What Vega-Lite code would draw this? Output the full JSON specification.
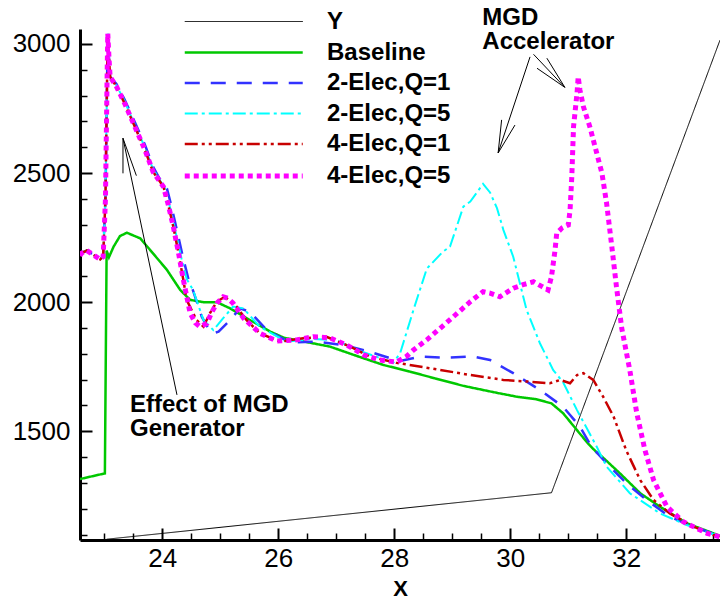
{
  "$schema": "https://vega.github.io/schema/vega-lite/v6.json",
  "width": 640,
  "height": 511,
  "autosize": {"type": "none"},
  "padding": {"left": 80, "top": 29, "right": 0, "bottom": 62},
  "config": {"view": {"stroke": null}, "font": "Liberation Sans", "axis": {"grid": false, "labelColor": "black", "titleColor": "black", "domainColor": "black", "tickColor": "black"}},
  "datasets": {
    "curves": [
      {"series": "Y", "x": 23.04, "y": 1082}, {"series": "Y", "x": 30.71, "y": 1262}, {"series": "Y", "x": 33.615, "y": 3015},

      {"series": "Baseline", "x": 22.58, "y": 1315}, {"series": "Baseline", "x": 23.01, "y": 1337}, {"series": "Baseline", "x": 23.04, "y": 2200}, {"series": "Baseline", "x": 23.08, "y": 2174}, {"series": "Baseline", "x": 23.16, "y": 2215}, {"series": "Baseline", "x": 23.27, "y": 2256}, {"series": "Baseline", "x": 23.39, "y": 2269}, {"series": "Baseline", "x": 23.62, "y": 2247}, {"series": "Baseline", "x": 23.84, "y": 2189}, {"series": "Baseline", "x": 24.08, "y": 2125}, {"series": "Baseline", "x": 24.31, "y": 2047}, {"series": "Baseline", "x": 24.48, "y": 2009}, {"series": "Baseline", "x": 24.71, "y": 2000}, {"series": "Baseline", "x": 24.94, "y": 2000}, {"series": "Baseline", "x": 25.17, "y": 1976}, {"series": "Baseline", "x": 25.51, "y": 1931}, {"series": "Baseline", "x": 25.86, "y": 1886}, {"series": "Baseline", "x": 26.1, "y": 1862}, {"series": "Baseline", "x": 26.5, "y": 1845}, {"series": "Baseline", "x": 26.89, "y": 1828}, {"series": "Baseline", "x": 27.35, "y": 1792}, {"series": "Baseline", "x": 27.81, "y": 1757}, {"series": "Baseline", "x": 28.27, "y": 1731}, {"series": "Baseline", "x": 28.7, "y": 1705}, {"series": "Baseline", "x": 29.19, "y": 1676}, {"series": "Baseline", "x": 29.7, "y": 1652}, {"series": "Baseline", "x": 30.11, "y": 1634}, {"series": "Baseline", "x": 30.45, "y": 1624}, {"series": "Baseline", "x": 30.71, "y": 1608}, {"series": "Baseline", "x": 30.91, "y": 1570}, {"series": "Baseline", "x": 31.14, "y": 1507}, {"series": "Baseline", "x": 31.35, "y": 1450}, {"series": "Baseline", "x": 31.49, "y": 1418}, {"series": "Baseline", "x": 31.58, "y": 1402}, {"series": "Baseline", "x": 31.89, "y": 1337}, {"series": "Baseline", "x": 32.24, "y": 1260}, {"series": "Baseline", "x": 32.58, "y": 1208}, {"series": "Baseline", "x": 33.04, "y": 1144}, {"series": "Baseline", "x": 33.5, "y": 1105}, {"series": "Baseline", "x": 33.615, "y": 1095},

      {"series": "2-Elec,Q=1", "x": 22.58, "y": 2180}, {"series": "2-Elec,Q=1", "x": 22.61, "y": 2190}, {"series": "2-Elec,Q=1", "x": 22.7, "y": 2200}, {"series": "2-Elec,Q=1", "x": 22.8, "y": 2185}, {"series": "2-Elec,Q=1", "x": 22.93, "y": 2166}, {"series": "2-Elec,Q=1", "x": 22.98, "y": 2176}, {"series": "2-Elec,Q=1", "x": 23.02, "y": 2400}, {"series": "2-Elec,Q=1", "x": 23.05, "y": 2900}, {"series": "2-Elec,Q=1", "x": 23.06, "y": 3030}, {"series": "2-Elec,Q=1", "x": 23.08, "y": 2950}, {"series": "2-Elec,Q=1", "x": 23.1, "y": 2873}, {"series": "2-Elec,Q=1", "x": 23.21, "y": 2845}, {"series": "2-Elec,Q=1", "x": 23.35, "y": 2785}, {"series": "2-Elec,Q=1", "x": 23.5, "y": 2710}, {"series": "2-Elec,Q=1", "x": 23.7, "y": 2610}, {"series": "2-Elec,Q=1", "x": 23.84, "y": 2525}, {"series": "2-Elec,Q=1", "x": 23.95, "y": 2480}, {"series": "2-Elec,Q=1", "x": 24.08, "y": 2440}, {"series": "2-Elec,Q=1", "x": 24.16, "y": 2370}, {"series": "2-Elec,Q=1", "x": 24.26, "y": 2270}, {"series": "2-Elec,Q=1", "x": 24.36, "y": 2170}, {"series": "2-Elec,Q=1", "x": 24.45, "y": 2090}, {"series": "2-Elec,Q=1", "x": 24.53, "y": 2045}, {"series": "2-Elec,Q=1", "x": 24.68, "y": 1944}, {"series": "2-Elec,Q=1", "x": 24.8, "y": 1895}, {"series": "2-Elec,Q=1", "x": 24.88, "y": 1880}, {"series": "2-Elec,Q=1", "x": 24.97, "y": 1886}, {"series": "2-Elec,Q=1", "x": 25.17, "y": 1931}, {"series": "2-Elec,Q=1", "x": 25.34, "y": 1976}, {"series": "2-Elec,Q=1", "x": 25.51, "y": 1963}, {"series": "2-Elec,Q=1", "x": 25.8, "y": 1892}, {"series": "2-Elec,Q=1", "x": 26.2, "y": 1844}, {"series": "2-Elec,Q=1", "x": 26.66, "y": 1847}, {"series": "2-Elec,Q=1", "x": 27.12, "y": 1834}, {"series": "2-Elec,Q=1", "x": 27.58, "y": 1808}, {"series": "2-Elec,Q=1", "x": 27.93, "y": 1783}, {"series": "2-Elec,Q=1", "x": 28.1, "y": 1772}, {"series": "2-Elec,Q=1", "x": 28.44, "y": 1789}, {"series": "2-Elec,Q=1", "x": 28.9, "y": 1785}, {"series": "2-Elec,Q=1", "x": 29.36, "y": 1790}, {"series": "2-Elec,Q=1", "x": 29.65, "y": 1776}, {"series": "2-Elec,Q=1", "x": 30.05, "y": 1725}, {"series": "2-Elec,Q=1", "x": 30.51, "y": 1660}, {"series": "2-Elec,Q=1", "x": 30.91, "y": 1595}, {"series": "2-Elec,Q=1", "x": 31.2, "y": 1518}, {"series": "2-Elec,Q=1", "x": 31.4, "y": 1440}, {"series": "2-Elec,Q=1", "x": 31.66, "y": 1376}, {"series": "2-Elec,Q=1", "x": 32.0, "y": 1299}, {"series": "2-Elec,Q=1", "x": 32.35, "y": 1234}, {"series": "2-Elec,Q=1", "x": 32.75, "y": 1169}, {"series": "2-Elec,Q=1", "x": 33.1, "y": 1135}, {"series": "2-Elec,Q=1", "x": 33.5, "y": 1103}, {"series": "2-Elec,Q=1", "x": 33.615, "y": 1095},

      {"series": "2-Elec,Q=5", "x": 22.58, "y": 2180}, {"series": "2-Elec,Q=5", "x": 22.61, "y": 2190}, {"series": "2-Elec,Q=5", "x": 22.7, "y": 2200}, {"series": "2-Elec,Q=5", "x": 22.8, "y": 2185}, {"series": "2-Elec,Q=5", "x": 22.93, "y": 2166}, {"series": "2-Elec,Q=5", "x": 22.98, "y": 2176}, {"series": "2-Elec,Q=5", "x": 23.02, "y": 2400}, {"series": "2-Elec,Q=5", "x": 23.05, "y": 2900}, {"series": "2-Elec,Q=5", "x": 23.06, "y": 3040}, {"series": "2-Elec,Q=5", "x": 23.08, "y": 2950}, {"series": "2-Elec,Q=5", "x": 23.1, "y": 2873}, {"series": "2-Elec,Q=5", "x": 23.21, "y": 2840}, {"series": "2-Elec,Q=5", "x": 23.35, "y": 2778}, {"series": "2-Elec,Q=5", "x": 23.5, "y": 2700}, {"series": "2-Elec,Q=5", "x": 23.7, "y": 2600}, {"series": "2-Elec,Q=5", "x": 23.84, "y": 2515}, {"series": "2-Elec,Q=5", "x": 23.95, "y": 2475}, {"series": "2-Elec,Q=5", "x": 24.05, "y": 2440}, {"series": "2-Elec,Q=5", "x": 24.13, "y": 2370}, {"series": "2-Elec,Q=5", "x": 24.23, "y": 2270}, {"series": "2-Elec,Q=5", "x": 24.33, "y": 2170}, {"series": "2-Elec,Q=5", "x": 24.42, "y": 2090}, {"series": "2-Elec,Q=5", "x": 24.53, "y": 2047}, {"series": "2-Elec,Q=5", "x": 24.71, "y": 1931}, {"series": "2-Elec,Q=5", "x": 24.88, "y": 1892}, {"series": "2-Elec,Q=5", "x": 25.05, "y": 1938}, {"series": "2-Elec,Q=5", "x": 25.22, "y": 1983}, {"series": "2-Elec,Q=5", "x": 25.4, "y": 1976}, {"series": "2-Elec,Q=5", "x": 25.68, "y": 1905}, {"series": "2-Elec,Q=5", "x": 26.14, "y": 1847}, {"series": "2-Elec,Q=5", "x": 26.6, "y": 1858}, {"series": "2-Elec,Q=5", "x": 27.0, "y": 1852}, {"series": "2-Elec,Q=5", "x": 27.4, "y": 1812}, {"series": "2-Elec,Q=5", "x": 27.8, "y": 1780}, {"series": "2-Elec,Q=5", "x": 27.98, "y": 1765}, {"series": "2-Elec,Q=5", "x": 28.1, "y": 1802}, {"series": "2-Elec,Q=5", "x": 28.33, "y": 1970}, {"series": "2-Elec,Q=5", "x": 28.56, "y": 2130}, {"series": "2-Elec,Q=5", "x": 28.84, "y": 2196}, {"series": "2-Elec,Q=5", "x": 28.96, "y": 2215}, {"series": "2-Elec,Q=5", "x": 29.19, "y": 2370}, {"series": "2-Elec,Q=5", "x": 29.31, "y": 2390}, {"series": "2-Elec,Q=5", "x": 29.53, "y": 2458}, {"series": "2-Elec,Q=5", "x": 29.65, "y": 2425}, {"series": "2-Elec,Q=5", "x": 29.77, "y": 2364}, {"series": "2-Elec,Q=5", "x": 29.88, "y": 2280}, {"series": "2-Elec,Q=5", "x": 30.05, "y": 2176}, {"series": "2-Elec,Q=5", "x": 30.28, "y": 1970}, {"series": "2-Elec,Q=5", "x": 30.51, "y": 1841}, {"series": "2-Elec,Q=5", "x": 30.74, "y": 1737}, {"series": "2-Elec,Q=5", "x": 30.91, "y": 1690}, {"series": "2-Elec,Q=5", "x": 31.15, "y": 1582}, {"series": "2-Elec,Q=5", "x": 31.49, "y": 1440}, {"series": "2-Elec,Q=5", "x": 31.66, "y": 1363}, {"series": "2-Elec,Q=5", "x": 32.06, "y": 1260}, {"series": "2-Elec,Q=5", "x": 32.58, "y": 1182}, {"series": "2-Elec,Q=5", "x": 33.04, "y": 1137}, {"series": "2-Elec,Q=5", "x": 33.5, "y": 1102}, {"series": "2-Elec,Q=5", "x": 33.615, "y": 1094},

      {"series": "4-Elec,Q=1", "x": 22.58, "y": 2180}, {"series": "4-Elec,Q=1", "x": 22.61, "y": 2190}, {"series": "4-Elec,Q=1", "x": 22.7, "y": 2200}, {"series": "4-Elec,Q=1", "x": 22.8, "y": 2185}, {"series": "4-Elec,Q=1", "x": 22.93, "y": 2166}, {"series": "4-Elec,Q=1", "x": 22.98, "y": 2176}, {"series": "4-Elec,Q=1", "x": 23.02, "y": 2400}, {"series": "4-Elec,Q=1", "x": 23.05, "y": 2900}, {"series": "4-Elec,Q=1", "x": 23.06, "y": 3030}, {"series": "4-Elec,Q=1", "x": 23.08, "y": 2950}, {"series": "4-Elec,Q=1", "x": 23.1, "y": 2873}, {"series": "4-Elec,Q=1", "x": 23.21, "y": 2835}, {"series": "4-Elec,Q=1", "x": 23.35, "y": 2770}, {"series": "4-Elec,Q=1", "x": 23.5, "y": 2693}, {"series": "4-Elec,Q=1", "x": 23.7, "y": 2590}, {"series": "4-Elec,Q=1", "x": 23.84, "y": 2505}, {"series": "4-Elec,Q=1", "x": 23.95, "y": 2470}, {"series": "4-Elec,Q=1", "x": 24.02, "y": 2447}, {"series": "4-Elec,Q=1", "x": 24.1, "y": 2380}, {"series": "4-Elec,Q=1", "x": 24.19, "y": 2292}, {"series": "4-Elec,Q=1", "x": 24.28, "y": 2190}, {"series": "4-Elec,Q=1", "x": 24.36, "y": 2090}, {"series": "4-Elec,Q=1", "x": 24.42, "y": 2009}, {"series": "4-Elec,Q=1", "x": 24.59, "y": 1931}, {"series": "4-Elec,Q=1", "x": 24.71, "y": 1905}, {"series": "4-Elec,Q=1", "x": 24.82, "y": 1957}, {"series": "4-Elec,Q=1", "x": 24.94, "y": 2002}, {"series": "4-Elec,Q=1", "x": 25.08, "y": 2021}, {"series": "4-Elec,Q=1", "x": 25.28, "y": 1983}, {"series": "4-Elec,Q=1", "x": 25.45, "y": 1931}, {"series": "4-Elec,Q=1", "x": 25.68, "y": 1880}, {"series": "4-Elec,Q=1", "x": 26.03, "y": 1847}, {"series": "4-Elec,Q=1", "x": 26.43, "y": 1860}, {"series": "4-Elec,Q=1", "x": 26.83, "y": 1866}, {"series": "4-Elec,Q=1", "x": 27.24, "y": 1828}, {"series": "4-Elec,Q=1", "x": 27.58, "y": 1789}, {"series": "4-Elec,Q=1", "x": 28.04, "y": 1765}, {"series": "4-Elec,Q=1", "x": 28.62, "y": 1744}, {"series": "4-Elec,Q=1", "x": 29.31, "y": 1718}, {"series": "4-Elec,Q=1", "x": 29.88, "y": 1699}, {"series": "4-Elec,Q=1", "x": 30.34, "y": 1692}, {"series": "4-Elec,Q=1", "x": 30.68, "y": 1686}, {"series": "4-Elec,Q=1", "x": 30.86, "y": 1699}, {"series": "4-Elec,Q=1", "x": 31.03, "y": 1686}, {"series": "4-Elec,Q=1", "x": 31.15, "y": 1718}, {"series": "4-Elec,Q=1", "x": 31.26, "y": 1725}, {"series": "4-Elec,Q=1", "x": 31.43, "y": 1699}, {"series": "4-Elec,Q=1", "x": 31.6, "y": 1634}, {"series": "4-Elec,Q=1", "x": 31.78, "y": 1557}, {"series": "4-Elec,Q=1", "x": 32.0, "y": 1425}, {"series": "4-Elec,Q=1", "x": 32.24, "y": 1311}, {"series": "4-Elec,Q=1", "x": 32.47, "y": 1234}, {"series": "4-Elec,Q=1", "x": 32.75, "y": 1182}, {"series": "4-Elec,Q=1", "x": 33.16, "y": 1131}, {"series": "4-Elec,Q=1", "x": 33.5, "y": 1098}, {"series": "4-Elec,Q=1", "x": 33.615, "y": 1093},

      {"series": "4-Elec,Q=5", "x": 22.58, "y": 2180}, {"series": "4-Elec,Q=5", "x": 22.61, "y": 2190}, {"series": "4-Elec,Q=5", "x": 22.7, "y": 2200}, {"series": "4-Elec,Q=5", "x": 22.8, "y": 2185}, {"series": "4-Elec,Q=5", "x": 22.93, "y": 2166}, {"series": "4-Elec,Q=5", "x": 22.98, "y": 2176}, {"series": "4-Elec,Q=5", "x": 23.02, "y": 2400}, {"series": "4-Elec,Q=5", "x": 23.05, "y": 2900}, {"series": "4-Elec,Q=5", "x": 23.06, "y": 3040}, {"series": "4-Elec,Q=5", "x": 23.08, "y": 2950}, {"series": "4-Elec,Q=5", "x": 23.1, "y": 2873}, {"series": "4-Elec,Q=5", "x": 23.21, "y": 2835}, {"series": "4-Elec,Q=5", "x": 23.35, "y": 2770}, {"series": "4-Elec,Q=5", "x": 23.5, "y": 2693}, {"series": "4-Elec,Q=5", "x": 23.7, "y": 2590}, {"series": "4-Elec,Q=5", "x": 23.84, "y": 2505}, {"series": "4-Elec,Q=5", "x": 23.95, "y": 2470}, {"series": "4-Elec,Q=5", "x": 24.02, "y": 2447}, {"series": "4-Elec,Q=5", "x": 24.1, "y": 2380}, {"series": "4-Elec,Q=5", "x": 24.19, "y": 2292}, {"series": "4-Elec,Q=5", "x": 24.28, "y": 2190}, {"series": "4-Elec,Q=5", "x": 24.36, "y": 2090}, {"series": "4-Elec,Q=5", "x": 24.48, "y": 1957}, {"series": "4-Elec,Q=5", "x": 24.57, "y": 1920}, {"series": "4-Elec,Q=5", "x": 24.65, "y": 1905}, {"series": "4-Elec,Q=5", "x": 24.77, "y": 1918}, {"series": "4-Elec,Q=5", "x": 24.85, "y": 1960}, {"series": "4-Elec,Q=5", "x": 24.94, "y": 1996}, {"series": "4-Elec,Q=5", "x": 25.05, "y": 2021}, {"series": "4-Elec,Q=5", "x": 25.13, "y": 2015}, {"series": "4-Elec,Q=5", "x": 25.22, "y": 1996}, {"series": "4-Elec,Q=5", "x": 25.4, "y": 1938}, {"series": "4-Elec,Q=5", "x": 25.68, "y": 1880}, {"series": "4-Elec,Q=5", "x": 25.97, "y": 1850}, {"series": "4-Elec,Q=5", "x": 26.32, "y": 1854}, {"series": "4-Elec,Q=5", "x": 26.6, "y": 1866}, {"series": "4-Elec,Q=5", "x": 26.89, "y": 1862}, {"series": "4-Elec,Q=5", "x": 27.18, "y": 1834}, {"series": "4-Elec,Q=5", "x": 27.47, "y": 1796}, {"series": "4-Elec,Q=5", "x": 27.75, "y": 1776}, {"series": "4-Elec,Q=5", "x": 28.04, "y": 1768}, {"series": "4-Elec,Q=5", "x": 28.21, "y": 1790}, {"series": "4-Elec,Q=5", "x": 28.33, "y": 1815}, {"series": "4-Elec,Q=5", "x": 28.56, "y": 1854}, {"series": "4-Elec,Q=5", "x": 28.79, "y": 1899}, {"series": "4-Elec,Q=5", "x": 29.02, "y": 1944}, {"series": "4-Elec,Q=5", "x": 29.31, "y": 2002}, {"series": "4-Elec,Q=5", "x": 29.53, "y": 2041}, {"series": "4-Elec,Q=5", "x": 29.65, "y": 2035}, {"series": "4-Elec,Q=5", "x": 29.82, "y": 2021}, {"series": "4-Elec,Q=5", "x": 30.05, "y": 2054}, {"series": "4-Elec,Q=5", "x": 30.22, "y": 2068}, {"series": "4-Elec,Q=5", "x": 30.4, "y": 2079}, {"series": "4-Elec,Q=5", "x": 30.55, "y": 2060}, {"series": "4-Elec,Q=5", "x": 30.65, "y": 2047}, {"series": "4-Elec,Q=5", "x": 30.71, "y": 2099}, {"series": "4-Elec,Q=5", "x": 30.77, "y": 2200}, {"series": "4-Elec,Q=5", "x": 30.8, "y": 2267}, {"series": "4-Elec,Q=5", "x": 30.89, "y": 2287}, {"series": "4-Elec,Q=5", "x": 31.0, "y": 2299}, {"series": "4-Elec,Q=5", "x": 31.03, "y": 2357}, {"series": "4-Elec,Q=5", "x": 31.06, "y": 2486}, {"series": "4-Elec,Q=5", "x": 31.09, "y": 2680}, {"series": "4-Elec,Q=5", "x": 31.15, "y": 2809}, {"series": "4-Elec,Q=5", "x": 31.17, "y": 2873}, {"series": "4-Elec,Q=5", "x": 31.2, "y": 2822}, {"series": "4-Elec,Q=5", "x": 31.26, "y": 2757}, {"series": "4-Elec,Q=5", "x": 31.37, "y": 2680}, {"series": "4-Elec,Q=5", "x": 31.49, "y": 2577}, {"series": "4-Elec,Q=5", "x": 31.58, "y": 2499}, {"series": "4-Elec,Q=5", "x": 31.66, "y": 2383}, {"series": "4-Elec,Q=5", "x": 31.75, "y": 2215}, {"series": "4-Elec,Q=5", "x": 31.83, "y": 2060}, {"series": "4-Elec,Q=5", "x": 31.92, "y": 1900}, {"series": "4-Elec,Q=5", "x": 32.06, "y": 1737}, {"series": "4-Elec,Q=5", "x": 32.18, "y": 1570}, {"series": "4-Elec,Q=5", "x": 32.32, "y": 1428}, {"series": "4-Elec,Q=5", "x": 32.47, "y": 1311}, {"series": "4-Elec,Q=5", "x": 32.7, "y": 1208}, {"series": "4-Elec,Q=5", "x": 32.98, "y": 1150}, {"series": "4-Elec,Q=5", "x": 33.39, "y": 1105}, {"series": "4-Elec,Q=5", "x": 33.615, "y": 1091}
    ],
    "arrows": [
      {"x": 24.253, "y": 1641, "x2": 23.322, "y2": 2635},
      {"x": 23.322, "y": 2635, "x2": 23.322, "y2": 2499},
      {"x": 23.322, "y": 2635, "x2": 23.553, "y2": 2490},
      {"x": 30.34, "y": 2950, "x2": 29.79, "y2": 2578},
      {"x": 29.79, "y": 2578, "x2": 29.85, "y2": 2706},
      {"x": 29.79, "y": 2578, "x2": 30.08, "y2": 2686},
      {"x": 30.4, "y": 2960, "x2": 30.94, "y2": 2832},
      {"x": 30.94, "y": 2832, "x2": 30.63, "y2": 2945},
      {"x": 30.94, "y": 2832, "x2": 30.46, "y2": 2906}
    ],
    "notes": [
      {"x": 23.443, "y": 1576, "label": "Effect of MGD\nGenerator"},
      {"x": 29.517, "y": 3073, "label": "MGD\nAccelerator"}
    ]
  },
  "resolve": {"axis": {"x": "independent", "y": "independent"}},
  "layer": [
    {
      "data": {"name": "curves"},
      "mark": {"type": "line", "clip": true, "strokeCap": "butt"},
      "encoding": {
        "x": {"field": "x", "type": "quantitative", "scale": {"domain": [22.581, 33.615], "nice": false, "zero": false},
              "axis": {"orient": "bottom", "title": "X", "values": [24, 26, 28, 30, 32], "ticks": false, "labelFontSize": 26, "labelPadding": 5, "domainWidth": 3, "titleFontSize": 22, "titleFontWeight": "bold", "titlePadding": 7, "labelFlush": false}},
        "y": {"field": "y", "type": "quantitative", "scale": {"domain": [1079, 3058], "nice": false, "zero": false},
              "axis": {"orient": "left", "title": null, "values": [1500, 2000, 2500, 3000], "format": "d", "ticks": false, "labelFontSize": 26, "labelPadding": 10, "domainWidth": 3, "labelFlush": false}},
        "color": {"field": "series", "type": "ordinal",
                  "scale": {"domain": ["Y", "Baseline", "2-Elec,Q=1", "2-Elec,Q=5", "4-Elec,Q=1", "4-Elec,Q=5"], "range": ["#000000", "#00c800", "#3232ff", "#00ffff", "#c80000", "#ff00ff"]},
                  "legend": {"orient": "none", "legendX": 102, "legendY": -23, "title": null, "symbolType": "M-1,0H7", "symbolSize": 870, "symbolFillColor": "transparent", "labelFontSize": 24, "labelFontWeight": "bold", "labelFont": "Liberation Sans", "labelColor": "black", "labelOffset": 110, "rowPadding": 2.5, "padding": 0, "labelLimit": 300}},
        "strokeDash": {"field": "series", "type": "ordinal",
                  "scale": {"domain": ["Y", "Baseline", "2-Elec,Q=1", "2-Elec,Q=5", "4-Elec,Q=1", "4-Elec,Q=5"], "range": [[1, 0], [1, 0], [15, 11], [13, 4, 3, 4], [13, 4, 3, 4, 3, 4], [5, 4]]}},
        "strokeWidth": {"field": "series", "type": "ordinal",
                  "scale": {"type": "ordinal", "domain": ["Y", "Baseline", "2-Elec,Q=1", "2-Elec,Q=5", "4-Elec,Q=1", "4-Elec,Q=5"], "range": [1, 2.5, 2.5, 2, 2.5, 5]}}
      }
    },
    {
      "data": {"name": "arrows"},
      "mark": {"type": "rule", "color": "black", "strokeWidth": 1},
      "encoding": {
        "x": {"field": "x", "type": "quantitative", "scale": {"domain": [22.581, 33.615], "nice": false, "zero": false},
              "axis": {"orient": "bottom", "title": null, "values": [24, 26, 28, 30, 32], "labels": false, "domain": false, "ticks": true, "tickSize": -12, "tickWidth": 2}},
        "y": {"field": "y", "type": "quantitative", "scale": {"domain": [1079, 3058], "nice": false, "zero": false},
              "axis": {"orient": "left", "title": null, "values": [1500, 2000, 2500, 3000], "labels": false, "domain": false, "ticks": true, "tickSize": -12, "tickWidth": 2}},
        "x2": {"field": "x2"},
        "y2": {"field": "y2"}
      }
    },
    {
      "data": {"name": "notes"},
      "mark": {"type": "text", "align": "left", "baseline": "alphabetic", "lineBreak": "\n", "lineHeight": 24, "fontSize": 24, "fontWeight": "bold", "font": "Liberation Sans", "color": "black"},
      "encoding": {
        "x": {"field": "x", "type": "quantitative", "scale": {"domain": [22.581, 33.615], "nice": false, "zero": false},
              "axis": {"orient": "bottom", "title": null, "values": [23, 23.5, 24.5, 25, 25.5, 26.5, 27, 27.5, 28.5, 29, 29.5, 30.5, 31, 31.5, 32.5, 33, 33.5], "labels": false, "domain": false, "ticks": true, "tickSize": -7, "tickWidth": 1.5}},
        "y": {"field": "y", "type": "quantitative", "scale": {"domain": [1079, 3058], "nice": false, "zero": false},
              "axis": {"orient": "left", "title": null, "values": [1100, 1200, 1300, 1400, 1600, 1700, 1800, 1900, 2100, 2200, 2300, 2400, 2600, 2700, 2800, 2900], "labels": false, "domain": false, "ticks": true, "tickSize": -7, "tickWidth": 1.5}},
        "text": {"field": "label", "type": "nominal"}
      }
    }
  ]
}
